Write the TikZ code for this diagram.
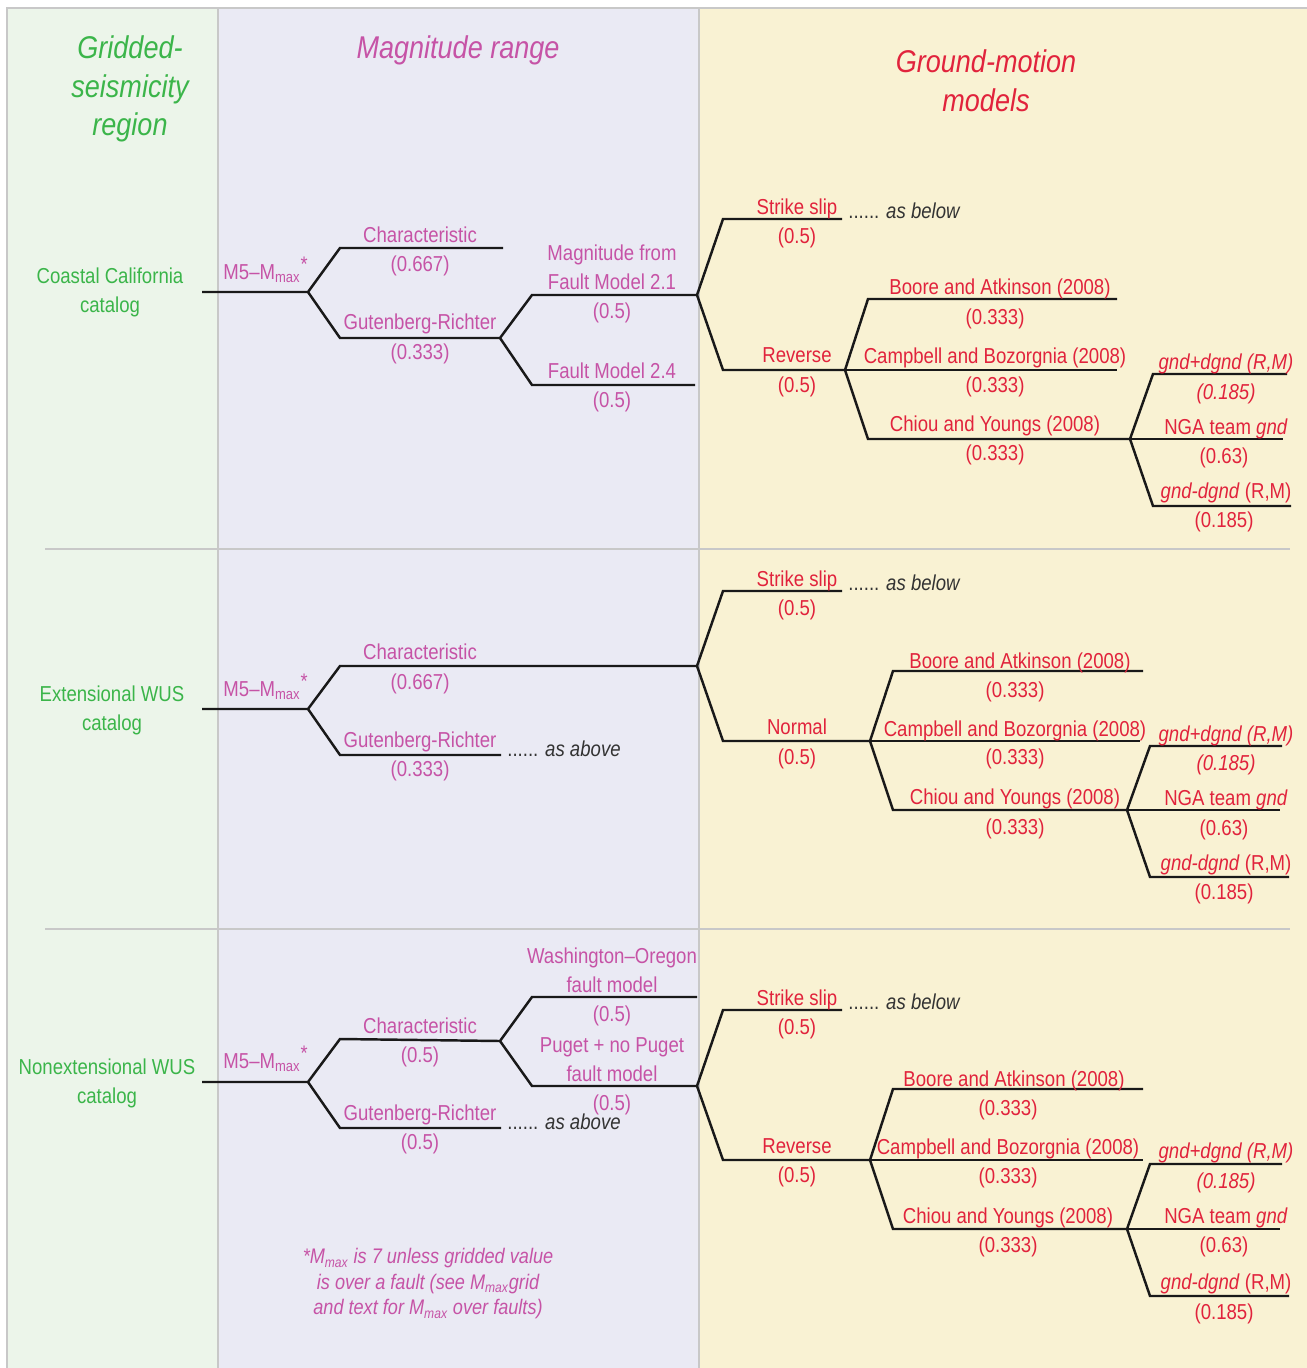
\documentclass[tikz,border=0pt]{standalone}
\usepackage{fontspec}
\setmainfont{Liberation Sans}[FakeStretch=0.86]
\usepackage{tikz}

\definecolor{regiongreen}{HTML}{3BB54A}
\definecolor{magpink}{HTML}{C653A6}
\definecolor{gmred}{HTML}{E1233C}
\definecolor{bggreen}{HTML}{ECF5EA}
\definecolor{bglav}{HTML}{EAEAF4}
\definecolor{bgyel}{HTML}{F9F2D3}
\definecolor{rulegray}{HTML}{C8C8C8}
\definecolor{notegray}{HTML}{333333}

\newcommand{\lblfont}{\fontsize{12.3}{16.5}\selectfont}
\newcommand{\headfont}{\fontsize{17.9}{22}\selectfont\itshape}

\tikzset{
  branch/.style={line width=1.4pt, black!90},
  rule/.style={line width=1.2pt, rulegray},
  lbl/.style={font=\lblfont, inner sep=0pt, text height=9pt, text depth=1pt},
  lbltwo/.style={font=\lblfont, inner sep=0pt, align=center},
  reglbl/.style={lbltwo, text=regiongreen},
  maglbl/.style={lbl, text=magpink},
  magtwo/.style={lbltwo, text=magpink},
  gmlbl/.style={lbl, text=gmred},
  seelbl/.style={lbl, text=notegray, anchor=west},
  headlbl/.style={font=\headfont, align=center, inner sep=0pt}
}

\begin{document}
\begin{tikzpicture}[x=0.02cm, y=-0.02cm]
            \useasboundingbox (0,0) rectangle (1307,1368);
            % column backgrounds
            \fill[bggreen] (7,8) rectangle (218,1368);
            \fill[bglav] (218,8) rectangle (699,1368);
            \fill[bgyel] (699,8) rectangle (1307,1368);
            \draw[rule] (7,1368) -- (7,8) -- (1307,8);
            \draw[rule] (218,8) -- (218,1368);
            \draw[rule] (699,8) -- (699,1368);
            \draw[rule] (45,549) -- (1290,549);
            \draw[rule] (45,929) -- (1290,929);
            % headings
            \node[headlbl, text=regiongreen] (hreg) at (130,89) {Gridded-\\seismicity\\region};
            \node[headlbl, text=magpink] (hmag) at (458,50) {Magnitude range};
            \node[headlbl, text=gmred] (hgm) at (986,81) {Ground-motion\\models};

            % ---------------- Coastal California ----------------
            \node[reglbl] (rega) at (110,292) {Coastal California\\catalog};
            \coordinate (a0) at (202,292);
            \coordinate (a1) at (308,292);
            \coordinate (achS) at (340,248);
            \coordinate (achE) at (503,248);
            \coordinate (agrS) at (340,338);
            \coordinate (agrE) at (500,338);
            \coordinate (afaS) at (532,295);
            \coordinate (afaE) at (697,295);
            \coordinate (afbS) at (532,385);
            \coordinate (afbE) at (695,385);
            \coordinate (assS) at (723,219);
            \coordinate (assE) at (842,219);
            \coordinate (arvS) at (723,370);
            \coordinate (arvE) at (845,370);
            \coordinate (abaS) at (868,299);
            \coordinate (abaE) at (1117,299);
            \coordinate (acbE) at (1117,370);
            \coordinate (acyS) at (868,439);
            \coordinate (acyE) at (1130,439);
            \coordinate (agaS) at (1153,374);
            \coordinate (agaE) at (1287,374);
            \coordinate (agbE) at (1283,439);
            \coordinate (agcS) at (1153,506);
            \coordinate (agcE) at (1291,506);
            \draw[branch] (a0) -- (a1) -- (achS) -- (achE);
            \draw[branch] (a1) -- (agrS) -- (agrE) -- (afaS) -- (afaE) -- (assS) -- (assE);
            \draw[branch] (agrE) -- (afbS) -- (afbE);
            \draw[branch] (afaE) -- (arvS) -- (arvE) -- (abaS) -- (abaE);
            \draw[branch] (arvE) -- (acbE);
            \draw[branch] (arvE) -- (acyS) -- (acyE) -- (agaS) -- (agaE);
            \draw[branch] (acyE) -- (agbE);
            \draw[branch] (acyE) -- (agcS) -- (agcE);
            \node[maglbl] (amag) at (266,272) {M5–M\textsubscript{max}\textsuperscript{\large*}};
            \node[maglbl] (ach) at (420,235) {Characteristic};
            \node[maglbl] (achw) at (420,264) {(0.667)};
            \node[maglbl] (agr) at (420,322) {Gutenberg-Richter};
            \node[maglbl] (agrw) at (420,352) {(0.333)};
            \node[magtwo] (afa) at (612,267) {Magnitude from\\Fault Model 2.1};
            \node[maglbl] (afaw) at (612,311) {(0.5)};
            \node[maglbl] (afb) at (612,371) {Fault Model 2.4};
            \node[maglbl] (afbw) at (612,400) {(0.5)};
            \node[gmlbl] (ass) at (797,207) {Strike slip};
            \node[gmlbl] (assw) at (797,236) {(0.5)};
            \node[seelbl] (asee) at (848,211) {...... \textit{as below}};
            \node[gmlbl] (arv) at (797,355) {Reverse};
            \node[gmlbl] (arvw) at (797,385) {(0.5)};
            \node[gmlbl] (aba) at (1000,287) {Boore and Atkinson (2008)};
            \node[gmlbl] (abaw) at (995,317) {(0.333)};
            \node[gmlbl] (acb) at (995,356) {Campbell and Bozorgnia (2008)};
            \node[gmlbl] (acbw) at (995,385) {(0.333)};
            \node[gmlbl] (acy) at (995,424) {Chiou and Youngs (2008)};
            \node[gmlbl] (acyw) at (995,453) {(0.333)};
            \node[gmlbl] (aga) at (1226,362) {\textit{gnd+dgnd (R,M)}};
            \node[gmlbl] (agaw) at (1226,392) {\textit{(0.185)}};
            \node[gmlbl] (agb) at (1226,427) {NGA team \textit{gnd}};
            \node[gmlbl] (agbw) at (1224,456) {(0.63)};
            \node[gmlbl] (agc) at (1226,491) {\textit{gnd-dgnd} (R,M)};
            \node[gmlbl] (agcw) at (1224,520) {(0.185)};

            % ---------------- Extensional WUS ----------------
            \node[reglbl] (regb) at (112,710) {Extensional WUS\\catalog};
            \coordinate (b0) at (202,709);
            \coordinate (b1) at (308,709);
            \coordinate (bchS) at (340,666);
            \coordinate (bchE) at (697,666);
            \coordinate (bgrS) at (340,755);
            \coordinate (bgrE) at (501,755);
            \coordinate (bssS) at (723,591);
            \coordinate (bssE) at (842,591);
            \coordinate (bnmS) at (723,741);
            \coordinate (bnmE) at (870,741);
            \coordinate (bbaS) at (893,671);
            \coordinate (bbaE) at (1143,671);
            \coordinate (bcbE) at (1140,741);
            \coordinate (bcyS) at (893,810);
            \coordinate (bcyE) at (1127,810);
            \coordinate (bgaS) at (1150,746);
            \coordinate (bgaE) at (1282,746);
            \coordinate (bgbE) at (1280,810);
            \coordinate (bgcS) at (1150,877);
            \coordinate (bgcE) at (1289,877);
            \draw[branch] (b0) -- (b1) -- (bchS) -- (bchE) -- (bssS) -- (bssE);
            \draw[branch] (b1) -- (bgrS) -- (bgrE);
            \draw[branch] (bchE) -- (bnmS) -- (bnmE) -- (bbaS) -- (bbaE);
            \draw[branch] (bnmE) -- (bcbE);
            \draw[branch] (bnmE) -- (bcyS) -- (bcyE) -- (bgaS) -- (bgaE);
            \draw[branch] (bcyE) -- (bgbE);
            \draw[branch] (bcyE) -- (bgcS) -- (bgcE);
            \node[maglbl] (bmag) at (266,689) {M5–M\textsubscript{max}\textsuperscript{\large*}};
            \node[maglbl] (bch) at (420,652) {Characteristic};
            \node[maglbl] (bchw) at (420,682) {(0.667)};
            \node[maglbl] (bgr) at (420,740) {Gutenberg-Richter};
            \node[maglbl] (bgrw) at (420,769) {(0.333)};
            \node[seelbl] (bsee) at (507,749) {...... \textit{as above}};
            \node[gmlbl] (bss) at (797,579) {Strike slip};
            \node[gmlbl] (bssw) at (797,608) {(0.5)};
            \node[seelbl] (bsee2) at (848,583) {...... \textit{as below}};
            \node[gmlbl] (bnm) at (797,727) {Normal};
            \node[gmlbl] (bnmw) at (797,757) {(0.5)};
            \node[gmlbl] (bba) at (1020,661) {Boore and Atkinson (2008)};
            \node[gmlbl] (bbaw) at (1015,690) {(0.333)};
            \node[gmlbl] (bcb) at (1015,729) {Campbell and Bozorgnia (2008)};
            \node[gmlbl] (bcbw) at (1015,757) {(0.333)};
            \node[gmlbl] (bcy) at (1015,797) {Chiou and Youngs (2008)};
            \node[gmlbl] (bcyw) at (1015,827) {(0.333)};
            \node[gmlbl] (bga) at (1226,734) {\textit{gnd+dgnd (R,M)}};
            \node[gmlbl] (bgaw) at (1226,763) {\textit{(0.185)}};
            \node[gmlbl] (bgb) at (1226,798) {NGA team \textit{gnd}};
            \node[gmlbl] (bgbw) at (1224,828) {(0.63)};
            \node[gmlbl] (bgc) at (1226,863) {\textit{gnd-dgnd} (R,M)};
            \node[gmlbl] (bgcw) at (1224,892) {(0.185)};

            % ---------------- Nonextensional WUS ----------------
            \node[reglbl] (regc) at (107,1083) {Nonextensional WUS\\catalog};
            \coordinate (c0) at (202,1082);
            \coordinate (c1) at (308,1082);
            \coordinate (cchS) at (340,1039);
            \coordinate (cchE) at (500,1041);
            \coordinate (cgrS) at (340,1128);
            \coordinate (cgrE) at (501,1128);
            \coordinate (cwoS) at (532,997);
            \coordinate (cwoE) at (697,997);
            \coordinate (cpgS) at (532,1086);
            \coordinate (cpgE) at (697,1086);
            \coordinate (cssS) at (723,1010);
            \coordinate (cssE) at (842,1010);
            \coordinate (crvS) at (723,1160);
            \coordinate (crvE) at (870,1160);
            \coordinate (cbaS) at (893,1089);
            \coordinate (cbaE) at (1143,1089);
            \coordinate (ccbE) at (1143,1160);
            \coordinate (ccyS) at (893,1229);
            \coordinate (ccyE) at (1127,1229);
            \coordinate (cgaS) at (1150,1164);
            \coordinate (cgaE) at (1282,1164);
            \coordinate (cgbE) at (1280,1229);
            \coordinate (cgcS) at (1150,1296);
            \coordinate (cgcE) at (1289,1296);
            \draw[branch] (c0) -- (c1) -- (cchS) -- (cchE) -- (cwoS) -- (cwoE);
            \draw[branch] (c1) -- (cgrS) -- (cgrE);
            \draw[branch] (cchE) -- (cpgS) -- (cpgE) -- (cssS) -- (cssE);
            \draw[branch] (cpgE) -- (crvS) -- (crvE) -- (cbaS) -- (cbaE);
            \draw[branch] (crvE) -- (ccbE);
            \draw[branch] (crvE) -- (ccyS) -- (ccyE) -- (cgaS) -- (cgaE);
            \draw[branch] (ccyE) -- (cgbE);
            \draw[branch] (ccyE) -- (cgcS) -- (cgcE);
            \node[maglbl] (cmag) at (266,1061) {M5–M\textsubscript{max}\textsuperscript{\large*}};
            \node[maglbl] (cch) at (420,1026) {Characteristic};
            \node[maglbl] (cchw) at (420,1055) {(0.5)};
            \node[maglbl] (cgr) at (420,1113) {Gutenberg-Richter};
            \node[maglbl] (cgrw) at (420,1142) {(0.5)};
            \node[seelbl] (csee) at (507,1122) {...... \textit{as above}};
            \node[magtwo] (cwo) at (612,970) {Washington–Oregon\\fault model};
            \node[maglbl] (cwow) at (612,1014) {(0.5)};
            \node[magtwo] (cpg) at (612,1060) {Puget + no Puget\\fault model};
            \node[maglbl] (cpgw) at (612,1103) {(0.5)};
            \node[gmlbl] (css) at (797,998) {Strike slip};
            \node[gmlbl] (cssw) at (797,1027) {(0.5)};
            \node[seelbl] (csee2) at (848,1002) {...... \textit{as below}};
            \node[gmlbl] (crv) at (797,1146) {Reverse};
            \node[gmlbl] (crvw) at (797,1175) {(0.5)};
            \node[gmlbl] (cba) at (1014,1079) {Boore and Atkinson (2008)};
            \node[gmlbl] (cbaw) at (1008,1108) {(0.333)};
            \node[gmlbl] (ccb) at (1008,1147) {Campbell and Bozorgnia (2008)};
            \node[gmlbl] (ccbw) at (1008,1176) {(0.333)};
            \node[gmlbl] (ccy) at (1008,1216) {Chiou and Youngs (2008)};
            \node[gmlbl] (ccyw) at (1008,1245) {(0.333)};
            \node[gmlbl] (cga) at (1226,1151) {\textit{gnd+dgnd (R,M)}};
            \node[gmlbl] (cgaw) at (1226,1181) {\textit{(0.185)}};
            \node[gmlbl] (cgb) at (1226,1216) {NGA team \textit{gnd}};
            \node[gmlbl] (cgbw) at (1224,1245) {(0.63)};
            \node[gmlbl] (cgc) at (1226,1282) {\textit{gnd-dgnd} (R,M)};
            \node[gmlbl] (cgcw) at (1224,1312) {(0.185)};

            % footnote
            \node[font=\fontsize{12}{14.5}\selectfont\itshape, text=magpink, align=center, inner sep=0pt] (note) at (428,1284)
              {*M\textsubscript{max} is 7 unless gridded value\\ is over a fault (see M\textsubscript{max}grid\\and text for M\textsubscript{max} over faults)};
        \end{tikzpicture}
\end{document}
